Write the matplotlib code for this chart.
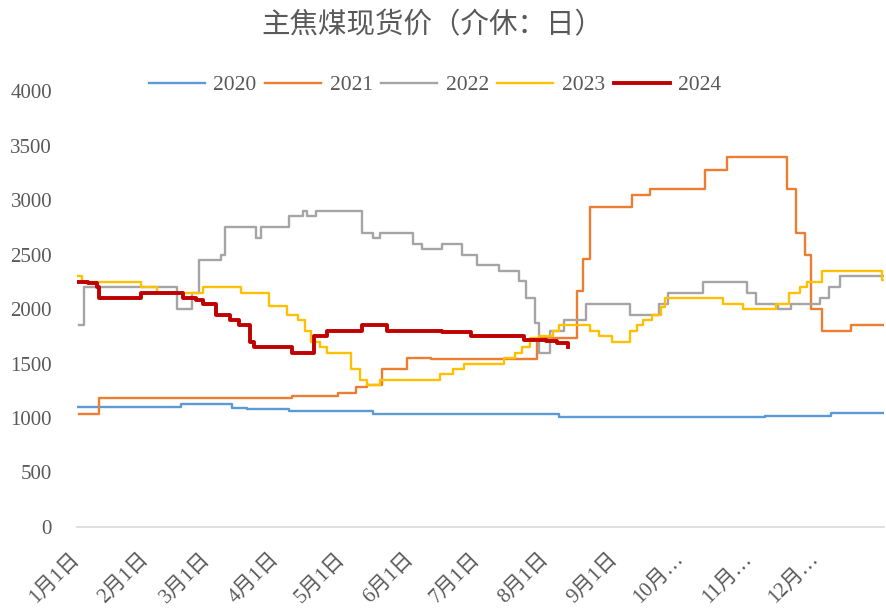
import matplotlib.pyplot as plt

plt.rcParams['font.family'] = ['Liberation Serif', 'Noto Sans CJK SC', 'DejaVu Sans']

# x axis: day of year, labels at month starts
month_days = [0, 31, 59, 90, 120, 151, 181, 212, 243, 273, 304, 334]
month_labels = ['1月1日', '2月1日', '3月1日', '4月1日', '5月1日', '6月1日',
                '7月1日', '8月1日', '9月1日', '10月…', '11月…', '12月…']

# price change points (day, new price)
d2020 = [0, 47, 70, 77, 96, 134, 218, 311, 341, 365]
v2020 = [1100, 1130, 1090, 1080, 1065, 1035, 1005, 1015, 1045, 1045]

d2021 = [1, 10, 97, 118, 126, 131, 138, 149, 160, 208, 226, 229, 232, 251,
         259, 284, 294, 321, 325, 329, 332, 337, 350, 365]
v2021 = [1040, 1180, 1200, 1230, 1280, 1300, 1450, 1550, 1540, 1730, 2170,
         2460, 2940, 3050, 3100, 3280, 3400, 3100, 2700, 2500, 2000, 1800,
         1850, 1850]

d2022 = [1, 3, 45, 52, 55, 65, 67, 81, 83, 96, 102, 104, 108, 129, 134, 137,
         152, 156, 165, 174, 181, 191, 200, 203, 207, 209, 214, 220, 230, 250,
         263, 267, 283, 303, 307, 317, 323, 336, 340, 345, 365]
v2022 = [1850, 2200, 2000, 2150, 2450, 2500, 2750, 2650, 2750, 2850, 2900,
         2850, 2900, 2700, 2650, 2700, 2600, 2550, 2600, 2500, 2400, 2350,
         2260, 2100, 1870, 1600, 1800, 1900, 2050, 1950, 2050, 2150, 2250,
         2150, 2050, 2000, 2050, 2100, 2200, 2300, 2300]

d2023 = [0, 2, 29, 36, 57, 74, 87, 95, 100, 103, 106, 110, 113, 124, 128,
         131, 137, 164, 170, 175, 193, 198, 201, 205, 209, 215, 218, 232, 236,
         242, 250, 253, 256, 260, 264, 266, 292, 301, 316, 322, 327, 330, 337,
         364, 365]
v2023 = [2300, 2250, 2200, 2150, 2200, 2150, 2030, 1950, 1900, 1800, 1700,
         1650, 1600, 1450, 1350, 1300, 1350, 1400, 1450, 1500, 1550, 1600,
         1650, 1730, 1750, 1800, 1850, 1800, 1750, 1700, 1800, 1850, 1900,
         1950, 2020, 2100, 2050, 2000, 2050, 2150, 2200, 2250, 2350, 2270,
         2270]

d2024 = [0, 5, 9, 10, 29, 48, 54, 57, 63, 69, 73, 78, 80, 97, 107, 113, 129,
         140, 165, 178, 202, 212, 217, 222]
v2024 = [2250, 2240, 2200, 2100, 2150, 2100, 2080, 2050, 1950, 1900, 1850,
         1700, 1650, 1600, 1750, 1800, 1850, 1800, 1790, 1750, 1720, 1710,
         1690, 1650]

fig = plt.figure(figsize=(8.86, 6.12), dpi=100)
ax = fig.add_axes([0.087, 0.139, 0.911, 0.712])

series = [('2020', d2020, v2020, '#5B9BD5', 1.7),
          ('2021', d2021, v2021, '#ED7D31', 1.7),
          ('2022', d2022, v2022, '#A5A5A5', 1.7),
          ('2023', d2023, v2023, '#FFC000', 1.7),
          ('2024', d2024, v2024, '#C00000', 2.8)]
for name, d, v, c, lw in series:
    ax.plot(d, v, drawstyle='steps-post', color=c, lw=lw, label=name)

ax.set_xlim(0, 365)
ax.set_ylim(0, 4000)
ax.set_yticks(range(0, 4001, 500))
ax.set_xticks(month_days)
ax.set_xticklabels(month_labels, rotation=45, ha='right', va='center',
                   rotation_mode='anchor', fontweight='light')
ax.tick_params(axis='y', length=0, pad=18, labelsize=15, labelcolor='#595959')
ax.tick_params(axis='x', length=0, pad=21, labelsize=15, labelcolor='#595959')

for s in ['top', 'right', 'left']:
    ax.spines[s].set_visible(False)
ax.spines['bottom'].set_color('#D9D9D9')
ax.spines['bottom'].set_linewidth(1.2)

fig.text(0.488, 0.959, '主焦煤现货价（介休：日）', ha='center', va='center',
         fontsize=20.5, color='#595959', family=['Noto Sans CJK SC'],
         fontweight='light')

fig.legend(loc='center', bbox_to_anchor=(0.491, 0.861), ncol=5, frameon=False,
           fontsize=15.5, labelcolor='#595959', handlelength=2.6,
           handletextpad=0.4, columnspacing=0.4)

fig.savefig('out.png', dpi=100)
